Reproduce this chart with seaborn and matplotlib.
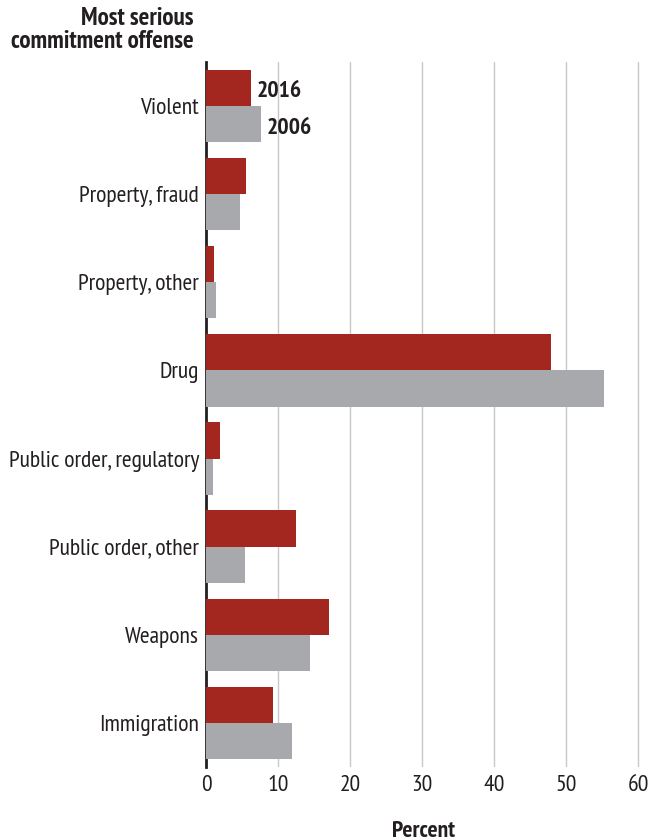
import numpy as np
import pandas as pd
import matplotlib
matplotlib.use('Agg')
import matplotlib.pyplot as plt
import seaborn as sns

# data
offenses = ['Violent', 'Property, fraud', 'Property, other', 'Drug',
            'Public order, regulatory', 'Public order, other', 'Weapons', 'Immigration']
pct_2016 = [6.2, 5.5, 1.1, 47.9, 1.9, 12.5, 17.1, 9.3]
pct_2006 = [7.6, 4.7, 1.4, 55.3, 1.0, 5.4, 14.4, 11.9]
years = ['2016', '2006']
x_ticks = [0, 10, 20, 30, 40, 50, 60]

RED = '#A3271F'
GRAY = '#A7A9AC'
TEXT = '#231F20'

df = pd.DataFrame({
    'offense': offenses * 2,
    'year': ['2016'] * len(offenses) + ['2006'] * len(offenses),
    'pct': pct_2016 + pct_2006,
})

sns.set_style('white')
plt.rcParams['font.family'] = ['PT Sans Narrow', 'DejaVu Sans']

fig = plt.figure(figsize=(6.5, 8.39), dpi=100)
ax = fig.add_axes([0.317, 0.086, 0.668, 0.840])

ax.set_xlim(0, 60.3)
for t in x_ticks[1:]:
    ax.axvline(t, color='#C8C8C8', linewidth=1.0, zorder=0)

sns.barplot(data=df, y='offense', x='pct', hue='year', hue_order=years,
            order=offenses, palette=[RED, GRAY], width=0.82, orient='h',
            saturation=1, legend=False, linewidth=0, ax=ax, zorder=2)

ax.set_xticks(x_ticks)
ax.set_xticklabels([str(t) for t in x_ticks], fontsize=17, color=TEXT)
ax.tick_params(axis='y', labelsize=17, colors=TEXT, length=0, pad=5)
ax.tick_params(axis='x', length=0, pad=6)
ax.set_ylim(7.5, -0.5)
ax.set_ylabel('')
ax.set_xlabel('Percent', fontsize=17, fontweight='bold', color=TEXT, labelpad=18)

for s in ['top', 'right', 'bottom']:
    ax.spines[s].set_visible(False)
ax.spines['left'].set_color(TEXT)
ax.spines['left'].set_linewidth(2)
ax.spines['left'].set_zorder(1)

# year labels beside the Violent bars
ax.text(pct_2016[0] + 0.8, -0.17, years[0], fontsize=17, fontweight='bold',
        color=TEXT, va='center', ha='left')
ax.text(pct_2006[0] + 0.8, 0.25, years[1], fontsize=17, fontweight='bold',
        color=TEXT, va='center', ha='left')

fig.text(0.298, 0.992, 'Most serious\ncommitment offense', fontsize=18,
         fontweight='bold', color=TEXT, ha='right', va='top', linespacing=1.0)

fig.savefig('out.png', dpi=100)
